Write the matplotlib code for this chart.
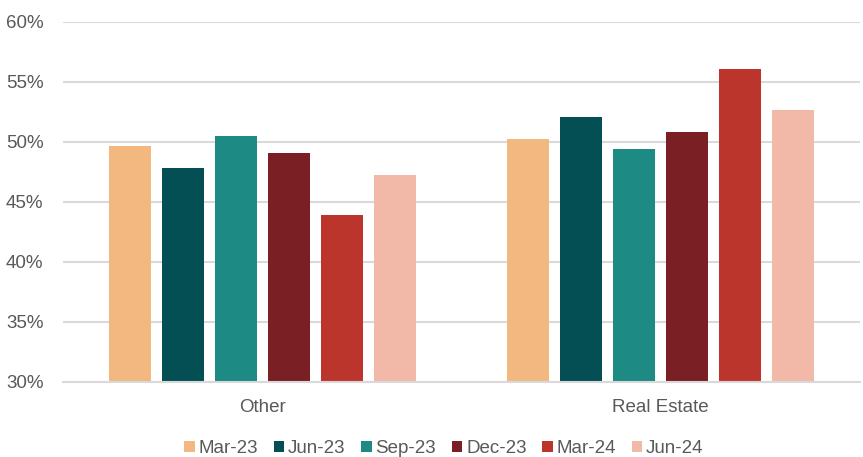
import numpy as np
import matplotlib.pyplot as plt
from matplotlib.ticker import PercentFormatter

plt.rcParams['font.family'] = ['Liberation Sans', 'DejaVu Sans']

categories = ['Other', 'Real Estate']
periods = ['Mar-23', 'Jun-23', 'Sep-23', 'Dec-23', 'Mar-24', 'Jun-24']
values = {
    'Mar-23': [49.7, 50.25],
    'Jun-23': [47.85, 52.1],
    'Sep-23': [50.5, 49.4],
    'Dec-23': [49.1, 50.8],
    'Mar-24': [43.9, 56.05],
    'Jun-24': [47.25, 52.7],
}
colors = ['#F2B880', '#034F54', '#1D8A84', '#7A1F23', '#BB352C', '#F2B8A8']

text_color = '#595959'
grid_color = '#D9D9D9'

fig = plt.figure(figsize=(8.63, 4.57), dpi=100)
ax = fig.add_axes([63 / 863, 1 - 382 / 457, 797 / 863, 360 / 457])

x = np.arange(len(categories))
width = 0.105
pitch = 0.133
for i, (p, c) in enumerate(zip(periods, colors)):
    offset = (i - (len(periods) - 1) / 2) * pitch
    ax.bar(x + offset, values[p], width, bottom=0, color=c, label=p, zorder=3)

ax.set_ylim(30, 60)
ax.set_xlim(-0.5, len(categories) - 0.5)
ax.set_yticks(np.arange(30, 61, 5))
ax.yaxis.set_major_formatter(PercentFormatter(decimals=0))
ax.set_xticks(x)
ax.set_xticklabels(categories)

ax.grid(axis='y', color=grid_color, linewidth=1.5, zorder=0)
for s in ['top', 'right', 'left']:
    ax.spines[s].set_visible(False)
ax.spines['bottom'].set_color(grid_color)
ax.spines['bottom'].set_linewidth(1.5)
ax.spines['bottom'].set_zorder(4)
ax.tick_params(axis='both', length=0, colors=text_color, labelsize=13.5)
ax.tick_params(axis='x', pad=12)
ax.tick_params(axis='y', pad=14)

ax.legend(loc='center', bbox_to_anchor=(0.478, -0.185), ncol=6, frameon=False,
          fontsize=13.5, labelcolor=text_color, handlelength=0.55, handleheight=0.55,
          handletextpad=0.2, columnspacing=0.85, borderaxespad=0, borderpad=0)

fig.savefig('out.png', dpi=100)
